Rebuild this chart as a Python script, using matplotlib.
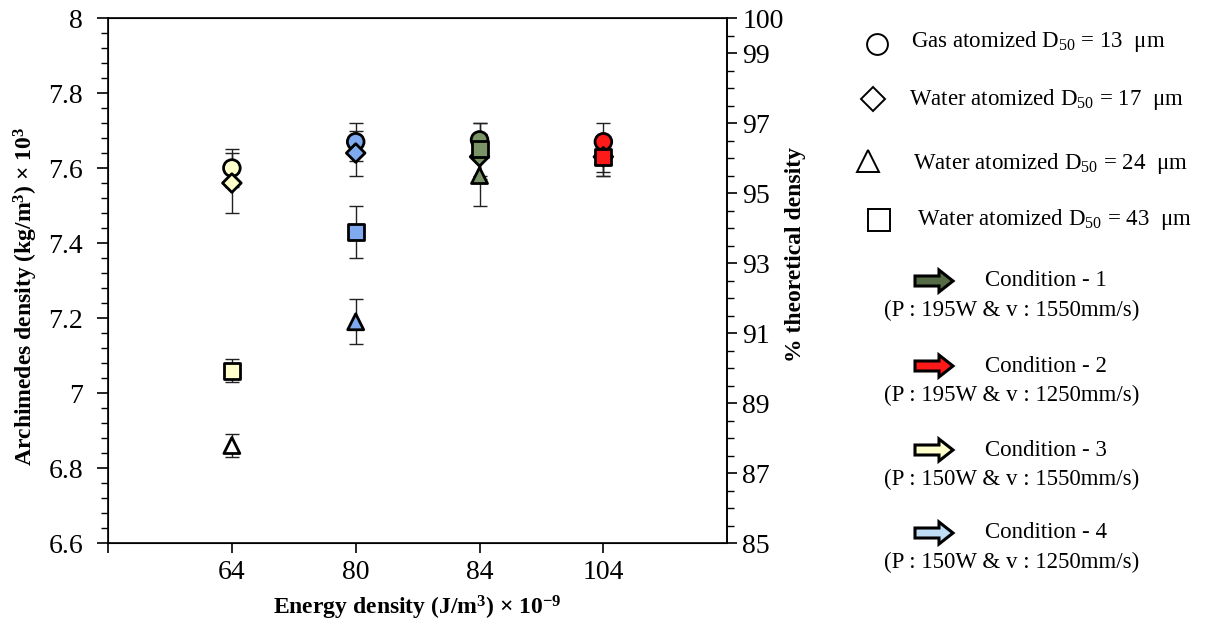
import matplotlib
matplotlib.use('Agg')
import matplotlib.pyplot as plt
from matplotlib.patches import FancyArrow

plt.rcParams['font.family'] = ['Liberation Serif', 'DejaVu Serif']
plt.rcParams['mathtext.fontset'] = 'custom'
plt.rcParams['mathtext.rm'] = 'Liberation Serif'
plt.rcParams['mathtext.it'] = 'Liberation Serif:italic'
plt.rcParams['mathtext.bf'] = 'Liberation Serif:bold'

# energy density categories (J/m3 x 1e-9)
energy_labels = ['64', '80', '84', '104']
x_pos = [1, 2, 3, 4]

# colour of each energy density (condition 3, 4, 1, 2)
point_colors = ['#FFFFCC', '#7FAAF0', '#7A9468', '#FF1A1A']

# Archimedes density (kg/m3 x 1e3) per powder
gas13 = [7.60, 7.67, 7.675, 7.67]
gas13_err = [0.05, 0.05, 0.045, 0.05]
water17 = [7.56, 7.64, 7.63, 7.63]
water17_err = [0.08, 0.06, 0.06, 0.05]
water24 = [6.86, 7.19, 7.58, 7.63]
water24_err = [0.03, 0.06, 0.08, 0.04]
water43 = [7.06, 7.43, 7.65, 7.63]
water43_err = [0.03, 0.07, 0.07, 0.05]

legend_names = ['Gas atomized D$_{50}$ = 13  \u03bcm',
                'Water atomized D$_{50}$ = 17  \u03bcm',
                'Water atomized D$_{50}$ = 24  \u03bcm',
                'Water atomized D$_{50}$ = 43  \u03bcm']
condition_names = ['Condition - 1', 'Condition - 2',
                   'Condition - 3', 'Condition - 4']
condition_params = ['(P : 195W & v : 1550mm/s)', '(P : 195W & v : 1250mm/s)',
                    '(P : 150W & v : 1550mm/s)', '(P : 150W & v : 1250mm/s)']
arrow_colors = ['#556B45', '#FF1A1A', '#FFFFCC', '#BFDDF5']

fig = plt.figure(figsize=(12.14, 6.22), dpi=100)
ax = fig.add_axes([0.089, 0.127, 0.51, 0.844])

series = [(gas13, gas13_err, 'o', 12),
          (water17, water17_err, 'D', 9.5),
          (water24, water24_err, '^', 11.5),
          (water43, water43_err, 's', 11.5)]
for vals, errs, mk, ms in series:
    ax.errorbar(x_pos, vals, yerr=errs, fmt='none', ecolor='#222222',
                elinewidth=1.0, capsize=5, capthick=1.0, zorder=2)
for vals, errs, mk, ms in series:
    colors = list(point_colors)
    if mk == '^':
        colors[0] = 'white'
    ax.scatter(x_pos, vals, s=ms ** 2, marker=mk, c=colors,
               edgecolors='black', linewidths=2.0, zorder=3)

ax.set_xlim(0, 5)
ax.set_ylim(6.6, 8.0)
ax.set_xticks([0, 1, 2, 3, 4])
ax.set_xticklabels([''] + energy_labels)
ax.set_yticks([6.6, 6.8, 7.0, 7.2, 7.4, 7.6, 7.8, 8.0])
ax.set_yticklabels(['6.6', '6.8', '7', '7.2', '7.4', '7.6', '7.8', '8'])
ax.set_yticks([6.6 + 0.04 * i for i in range(36)], minor=True)
ax.tick_params(axis='both', labelsize=20, direction='out', width=1.2)
ax.tick_params(axis='x', length=7, pad=5)
ax.tick_params(axis='y', which='major', length=8, pad=10)
ax.tick_params(axis='y', which='minor', length=5, width=1.0)
for sp in ax.spines.values():
    sp.set_linewidth(1.2)
ax.set_xlabel('Energy density (J/m$^{\\mathbf{3}}$) \u00d7 10$^{\\mathbf{-9}}$',
              fontsize=17, fontweight='bold')
ax.set_ylabel('Archimedes density (kg/m$^{\\mathbf{3}}$) \u00d7 10$^{\\mathbf{3}}$',
              fontsize=17, fontweight='bold')
ax.xaxis.set_label_coords(0.5, -0.097)
ax.yaxis.set_label_coords(-0.110, 0.47)

ax2 = ax.twinx()
ax2.set_ylim(85, 100)
ax2.set_yticks([85, 87, 89, 91, 93, 95, 97, 99, 100])
ax2.set_yticks([85 + 0.5 * i for i in range(31)], minor=True)
ax2.tick_params(axis='y', labelsize=20, direction='out', width=1.2, length=7,
                pad=4)
ax2.tick_params(axis='y', which='minor', length=5, width=1.0)
ax2.spines['right'].set_linewidth(1.2)
ax2.set_ylabel('% theoretical density', fontsize=17, fontweight='bold')
ax2.yaxis.set_label_coords(1.094, 0.55)

# legend drawn in pixel coordinates
leg = fig.add_axes([0, 0, 1, 1])
leg.set_xlim(0, 1214)
leg.set_ylim(622, 0)
leg.axis('off')

marker_pos = [(877, 44), (873, 99), (868, 161), (879, 220)]
text_x = [911, 909, 913, 917]
text_y = [42, 100, 163, 220]
legend_markers = ['o', 'D', '^', 's']
legend_sizes = [15, 12.5, 16, 15.5]
for (mx, my), tx, ty, mk, ms, name in zip(marker_pos, text_x, text_y,
                                          legend_markers, legend_sizes,
                                          legend_names):
    leg.plot(mx, my, marker=mk, ms=ms, mfc='white', mec='black', mew=1.4)
    leg.text(tx, ty, name, fontsize=16.5, va='center', ha='left')

arrow_y = [281, 366, 450, 533]
for ay, col, cname, cpar in zip(arrow_y, arrow_colors, condition_names,
                                condition_params):
    leg.add_patch(FancyArrow(915, ay, 38, 0, width=10, head_width=22,
                             head_length=14, length_includes_head=True,
                             facecolor=col, edgecolor='black', linewidth=2.2))
    leg.text(985, ay, cname, fontsize=16.5, va='center', ha='left')
    leg.text(1012, ay + 29, cpar, fontsize=16.5, va='center', ha='center')

fig.savefig('out.png', dpi=100)
